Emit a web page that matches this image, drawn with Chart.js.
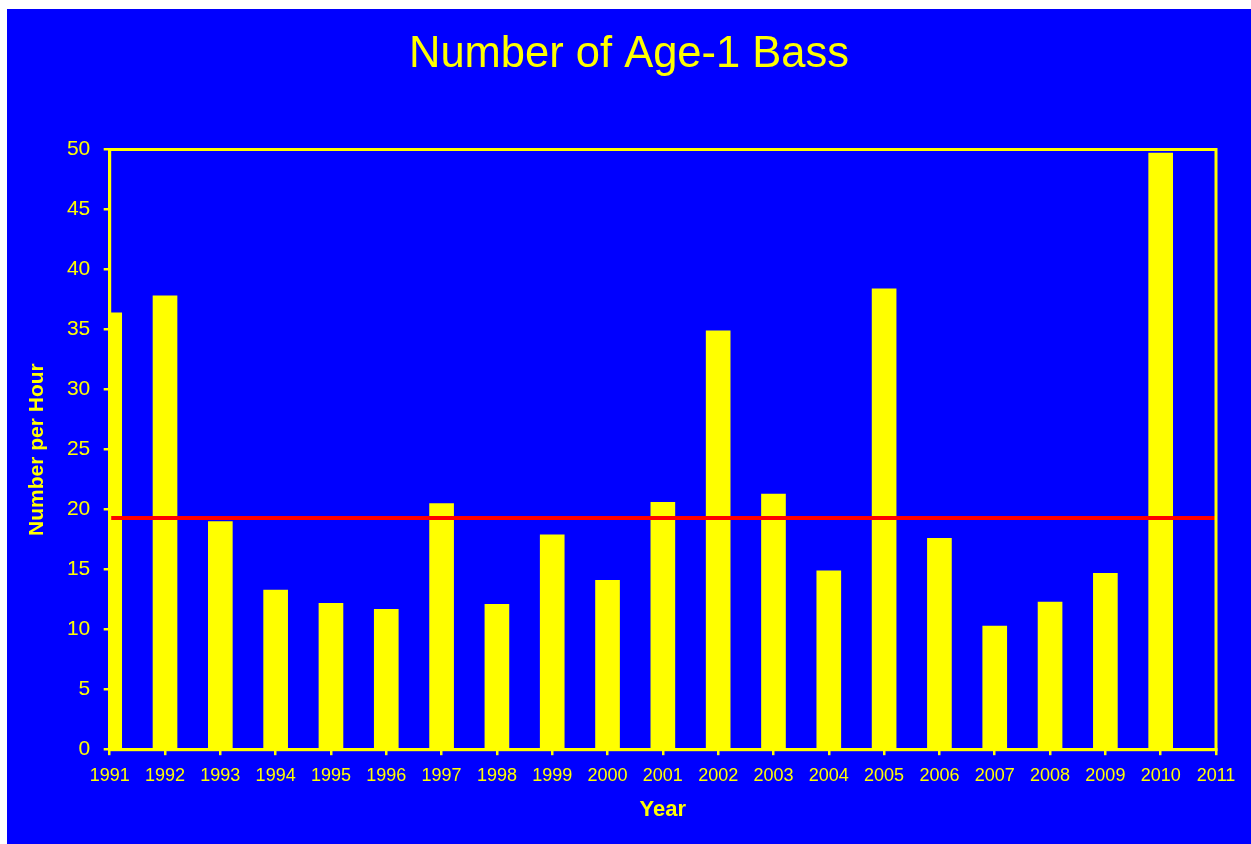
<!DOCTYPE html>
<html>
<head>
<meta charset="utf-8">
<script src="https://cdn.jsdelivr.net/npm/chart.js@4/dist/chart.umd.min.js"></script>
<style>
    html, body { margin: 0; padding: 0; background: #ffffff; overflow: hidden; }
    #frame { position: absolute; left: 7px; top: 9px; width: 1244px; height: 835px; background: #0000ff; }
    canvas { display: block; }
</style>
</head>
<body>
<div id="frame"><canvas id="chartRef" width="1244" height="835"></canvas></div>
<script>
// Data
const yearLabels = ["1991", "1992", "1993", "1994", "1995", "1996", "1997", "1998", "1999", "2000",
    "2001", "2002", "2003", "2004", "2005", "2006", "2007", "2008", "2009", "2010", "2011"];
const bassPerHour = [36.4, 37.8, 19.0, 13.3, 12.2, 11.7, 20.5, 12.1, 17.9, 14.1,
    20.6, 34.9, 21.3, 14.9, 38.4, 17.6, 10.3, 12.3, 14.7, 49.7];
const yTickValues = [0, 5, 10, 15, 20, 25, 30, 35, 40, 45, 50];
const meanLevel = 19.3;
const meanFrom = "1991";
const meanTo = "2011";

const YELLOW = "#ffff00";
const FONT = "'Liberation Sans', Arial, sans-serif";

// strokes the yellow frame round the plot area
const plotBorder = {
    id: "plotBorder",
    afterDatasetsDraw(chart) {
        const { ctx, chartArea: a } = chart;
        ctx.save();
        ctx.strokeStyle = YELLOW;
        ctx.lineWidth = 3;
        ctx.strokeRect(a.left, a.top, a.right - a.left, a.bottom - a.top);
        ctx.restore();
    },
};

document.addEventListener("DOMContentLoaded", () => {
    const ctx = document.getElementById("chartRef").getContext("2d");

    new Chart(ctx, {
        type: "bar",
        data: {
            labels: yearLabels,
            datasets: [
                {
                    type: "line",
                    label: "Mean",
                    data: [
                        { x: meanFrom, y: meanLevel },
                        { x: meanTo, y: meanLevel },
                    ],
                    borderColor: "#ff0000",
                    borderWidth: 4,
                    pointRadius: 0,
                    fill: false,
                    order: 0,
                },
                {
                    label: "Number per Hour",
                    data: bassPerHour,
                    backgroundColor: YELLOW,
                    borderWidth: 0,
                    barThickness: 24,
                    clip: 0,
                    order: 1,
                },
            ],
        },
        options: {
            responsive: false,
            animation: false,
            devicePixelRatio: 1,
            layout: { padding: 0 },
            plugins: {
                legend: { display: false },
                tooltip: { enabled: false },
                title: {
                    display: true,
                    text: "Number of Age-1 Bass",
                    color: YELLOW,
                    font: { family: FONT, size: 43.5, weight: "normal" },
                    padding: { top: 19.7, bottom: 68.6 },
                },
            },
            scales: {
                x: {
                    offset: false,
                    grid: {
                        offset: false,
                        drawOnChartArea: false,
                        color: YELLOW,
                        lineWidth: 2.5,
                        tickLength: 5.5,
                    },
                    border: { display: true, color: YELLOW, width: 3 },
                    ticks: {
                        color: YELLOW,
                        font: { family: FONT, size: 18 },
                        padding: 10,
                        maxRotation: 0,
                        autoSkip: false,
                    },
                    title: {
                        display: true,
                        text: "Year",
                        color: YELLOW,
                        font: { family: FONT, size: 22, weight: "bold" },
                        padding: { top: 0, bottom: 20.4 },
                    },
                    afterFit: (scale) => { scale.height = 94.3; },
                },
                y: {
                    min: 0,
                    max: 50,
                    afterBuildTicks: (scale) => {
                        scale.ticks = yTickValues.map((value) => ({ value }));
                    },
                    grid: {
                        drawOnChartArea: false,
                        color: YELLOW,
                        lineWidth: 2.5,
                        tickLength: 6,
                    },
                    border: { display: true, color: YELLOW, width: 3 },
                    ticks: {
                        color: YELLOW,
                        font: { family: FONT, size: 21 },
                        padding: 13.4,
                    },
                    title: {
                        display: true,
                        text: "Number per Hour",
                        color: YELLOW,
                        font: { family: FONT, size: 21, weight: "bold" },
                        padding: { top: 18.1, bottom: 0 },
                    },
                    afterFit: (scale) => { scale.width = 102.7; },
                },
                // empty right-hand axis, only reserves the right margin
                yRight: {
                    position: "right",
                    display: true,
                    min: 0,
                    max: 50,
                    grid: { display: false },
                    border: { display: false },
                    ticks: { display: false },
                    afterFit: (scale) => { scale.width = 35; },
                },
            },
        },
        plugins: [plotBorder],
    });
});
</script>
</body>
</html>
